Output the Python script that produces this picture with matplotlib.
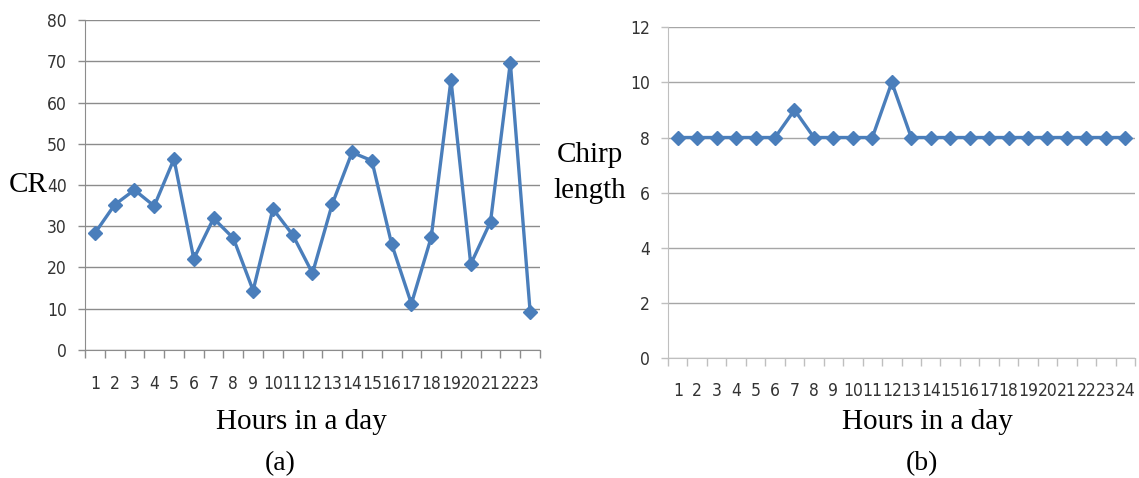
import numpy as np
import matplotlib.pyplot as plt
from matplotlib.ticker import FixedLocator, NullFormatter

# Data
hours_a = list(range(1, 24))
cr_values = [28.3, 35.2, 38.8, 34.9, 46.3, 22.1, 31.9, 27.1, 14.4, 34.2, 27.9, 18.6,
             35.4, 47.9, 45.9, 25.7, 11.2, 27.3, 65.5, 20.8, 31.1, 69.7, 9.3]

hours_b = list(range(1, 25))
chirp_values = [8, 8, 8, 8, 8, 8, 9, 8, 8, 8, 8, 10,
                8, 8, 8, 8, 8, 8, 8, 8, 8, 8, 8, 8]

line_color = "#4A7EBB"
serif_font = ["Liberation Serif", "DejaVu Serif"]

fig = plt.figure(figsize=(11.39, 4.78), dpi=100)


def style_axis(ax, hours, values, ymax, ystep, grid_color, spine_color, label_pad):
    n = len(hours)
    ax.plot(hours, values, color=line_color, lw=2.4, marker="D",
            markersize=7, markerfacecolor=line_color, markeredgecolor=line_color)
    ax.set_xlim(0.5, n + 0.5)
    ax.set_ylim(0, ymax)
    # category boundaries get the tick marks, centres carry the labels
    ax.xaxis.set_major_locator(FixedLocator(np.arange(0.5, n + 1.0, 1.0)))
    ax.xaxis.set_major_formatter(NullFormatter())
    ax.xaxis.set_minor_locator(FixedLocator(hours))
    ax.set_xticklabels([str(h) for h in hours], minor=True)
    ax.tick_params(axis="x", which="major", length=6, width=1, color=spine_color, direction="out")
    ax.tick_params(axis="x", which="minor", length=0, pad=label_pad, labelsize=12.5)
    ax.set_yticks(np.arange(0, ymax + 0.1, ystep))
    ax.tick_params(axis="y", length=5, width=1, color=spine_color, pad=8, labelsize=12.5)
    for lbl in ax.get_xticklabels(minor=True) + ax.get_yticklabels():
        lbl.set_family("DejaVu Sans")
        lbl.set_stretch("condensed")
        lbl.set_color("#333333")
    ax.grid(axis="y", color=grid_color, lw=1)
    ax.set_axisbelow(True)
    for side in ["top", "right"]:
        ax.spines[side].set_visible(False)
    ax.spines["left"].set_color(spine_color)
    ax.spines["bottom"].set_color(spine_color)


# (a) CR
ax1 = fig.add_axes([0.0746, 0.268, 0.3995, 0.690])
style_axis(ax1, hours_a, cr_values, 80, 10, "#8C8C8C", "#8C8C8C", 18)
fig.text(0.025, 0.612, "CR", fontsize=21, family=serif_font, ha="center", va="center")
fig.text(0.265, 0.117, "Hours in a day", fontsize=21, family=serif_font, ha="center", va="center")
fig.text(0.246, 0.031, "(a)", fontsize=20, family=serif_font, ha="center", va="center")

# (b) Chirp length
ax2 = fig.add_axes([0.5865, 0.251, 0.410, 0.692])
style_axis(ax2, hours_b, chirp_values, 12, 2, "#A6A6A6", "#BFBFBF", 17)
fig.text(0.518, 0.676, "Chirp", fontsize=21, family=serif_font, ha="center", va="center")
fig.text(0.518, 0.600, "length", fontsize=21, family=serif_font, ha="center", va="center")
fig.text(0.814, 0.117, "Hours in a day", fontsize=21, family=serif_font, ha="center", va="center")
fig.text(0.8095, 0.031, "(b)", fontsize=20, family=serif_font, ha="center", va="center")

plt.savefig("out.png", dpi=100)
plt.close()
